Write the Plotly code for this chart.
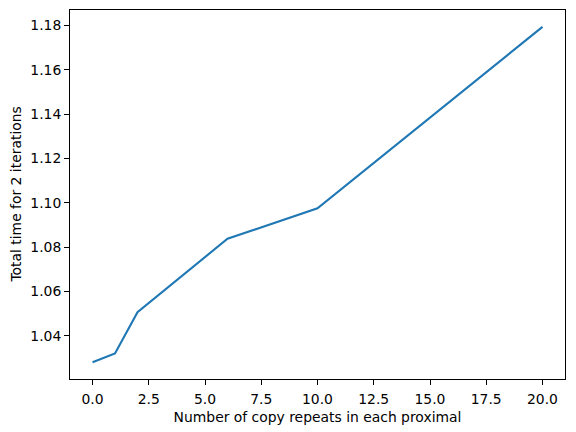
import plotly.graph_objects as go

copy_repeats = [0, 1, 2, 6, 10, 20]
total_time = [1.0281, 1.0320, 1.0506, 1.0838, 1.0975, 1.1794]

font = dict(family="DejaVu Sans", size=13.9, color="black")

fig = go.Figure()
fig.add_trace(go.Scatter(
    x=copy_repeats, y=total_time, mode="lines",
    line=dict(color="#1f77b4", width=2.1),
    showlegend=False,
))

axis_common = dict(
    showline=True, linecolor="black", linewidth=1.1, mirror=True,
    ticks="outside", ticklen=4.9, tickwidth=1.1, tickcolor="black",
    showgrid=False, zeroline=False, tickfont=font, automargin=False,
)

# page body has an 8px default margin, so the figure is sized/offset to compensate
fig.update_layout(
    width=568, height=424,
    margin=dict(l=62, r=11, t=2, b=53),
    paper_bgcolor="white", plot_bgcolor="white",
    font=font,
    xaxis=dict(
        range=[-1, 21], tick0=0, dtick=2.5, tickformat=".1f",
        ticklabelstandoff=2,
        title=dict(text="Number of copy repeats in each proximal", font=font, standoff=6),
        **axis_common,
    ),
    yaxis=dict(
        range=[1.0205, 1.1870], tick0=1.04, dtick=0.02, tickformat=".2f",
        **axis_common,
    ),
    annotations=[dict(
        text="Total time for 2 iterations", textangle=-90,
        xref="paper", yref="paper", x=-0.111, y=0.5,
        xanchor="center", yanchor="middle", showarrow=False, font=font,
    )],
)

fig.write_html("out.html")
